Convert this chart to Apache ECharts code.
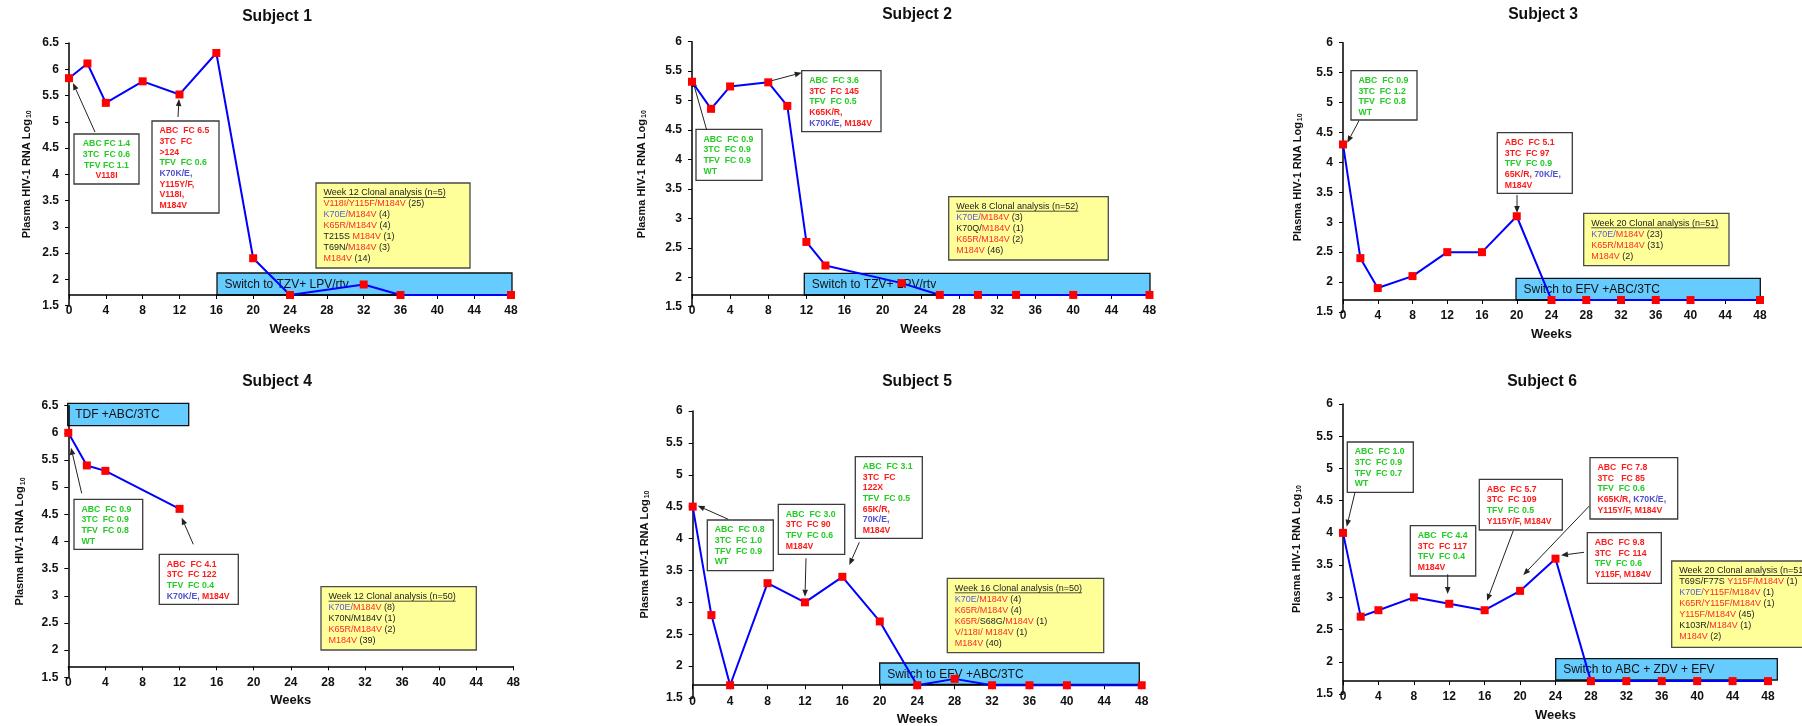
<!DOCTYPE html>
<html>
<head>
<meta charset="utf-8">
<title>Plasma HIV-1 RNA by subject</title>
<script src="https://cdn.jsdelivr.net/npm/echarts@6/dist/echarts.min.js"></script>
<style>
  html, body { margin: 0; padding: 0; background: #fff; }
  #chart { width: 1802px; height: 726px; }
</style>
</head>
<body>
<div id="chart"></div>
<script>
// weeks on study and plasma HIV-1 RNA (log10), one pair per subject
const weeks1 = [0, 2, 4, 8, 12, 16, 20, 24, 32, 36, 48]
const rna1 = [5.83, 6.11, 5.36, 5.77, 5.52, 6.31, 2.4, 1.7, 1.9, 1.7, 1.7]
const weeks2 = [0, 2, 4, 8, 10, 12, 14, 22, 26, 30, 34, 40, 48]
const rna2 = [5.32, 4.86, 5.24, 5.31, 4.91, 2.6, 2.2, 1.9, 1.7, 1.7, 1.7, 1.7, 1.7]
const weeks3 = [0, 2, 4, 8, 12, 16, 20, 24, 28, 32, 36, 40, 48]
const rna3 = [4.3, 2.4, 1.9, 2.1, 2.5, 2.5, 3.1, 1.7, 1.7, 1.7, 1.7, 1.7, 1.7]
const weeks4 = [0, 2, 4, 12]
const rna4 = [6.0, 5.4, 5.3, 4.6]
const weeks5 = [0, 2, 4, 8, 12, 16, 20, 24, 28, 32, 36, 40, 48]
const rna5 = [4.5, 2.8, 1.7, 3.3, 3.0, 3.4, 2.7, 1.7, 1.8, 1.7, 1.7, 1.7, 1.7]
const weeks6 = [0, 2, 4, 8, 12, 16, 20, 24, 28, 32, 36, 40, 44, 48]
const rna6 = [4.0, 2.7, 2.8, 3.0, 2.9, 2.8, 3.1, 3.6, 1.7, 1.7, 1.7, 1.7, 1.7, 1.7]

const subjects = ['Subject 1', 'Subject 2', 'Subject 3', 'Subject 4', 'Subject 5', 'Subject 6']
const yTop = [6.5, 6, 6, 6.5, 6, 6]
const yBottom = 1.5
const floorLine = 1.7   // the week axis is drawn at the assay limit
const weekTicks = 4

const FONT = '"Liberation Sans", Arial, sans-serif'

// plot boxes in px: left, top, width, height
const panels = [
  {grid: [69, 43, 442, 262.5], nameGap: 36, title: [277, 17]},
  {grid: [692, 41.7, 457.5, 265], nameGap: 44, title: [917, 15]},
  {grid: [1343, 42.7, 417, 269.3], nameGap: 39, title: [1543, 15]},
  {grid: [68.3, 405.7, 445, 271.5], nameGap: 42, title: [277, 382]},
  {grid: [692.7, 411, 449, 287], nameGap: 42, title: [917, 382]},
  {grid: [1343, 404, 425, 290], nameGap: 40, title: [1542, 382]}
]
const seriesData = [[weeks1, rna1], [weeks2, rna2], [weeks3, rna3], [weeks4, rna4], [weeks5, rna5], [weeks6, rna6]]

// annotation boxes (px)
const notes = [
  {x: 74, y: 134, w: 65, h: 50, align: 'center', lines: ['{g|ABC FC 1.4}', '{g|3TC  FC 0.6}', '{g|TFV FC 1.1}', '{r|V118I}']},
  {x: 152, y: 121, w: 67, h: 92, lines: ['{r|ABC  FC 6.5}', '{r|3TC  FC}', '{r|>124}', '{g|TFV  FC 0.6}', '{b|K70K/E,}', '{r|Y115Y/F,}', '{r|V118I,}', '{r|M184V}']},
  {x: 696, y: 129.3, w: 66, h: 51, lines: ['{g|ABC  FC 0.9}', '{g|3TC  FC 0.9}', '{g|TFV  FC 0.9}', '{g|WT}']},
  {x: 801.7, y: 70.7, w: 79.3, h: 61, lines: ['{g|ABC  FC 3.6}', '{r|3TC  FC 145}', '{g|TFV  FC 0.5}', '{r|K65K/R,}', '{b|K70K/E,}{r| M184V}']},
  {x: 1351, y: 70.7, w: 66, h: 49.3, lines: ['{g|ABC  FC 0.9}', '{g|3TC  FC 1.2}', '{g|TFV  FC 0.8}', '{g|WT}']},
  {x: 1497.3, y: 132.7, w: 75, h: 60.6, lines: ['{r|ABC  FC 5.1}', '{r|3TC  FC 97}', '{g|TFV  FC 0.9}', '{r|65K/R,}{b| 70K/E,}', '{r|M184V}']},
  {x: 74, y: 499.3, w: 68.7, h: 50, lines: ['{g|ABC  FC 0.9}', '{g|3TC  FC 0.9}', '{g|TFV  FC 0.8}', '{g|WT}']},
  {x: 159.3, y: 554.3, w: 79, h: 50, lines: ['{r|ABC  FC 4.1}', '{r|3TC  FC 122}', '{g|TFV  FC 0.4}', '{b|K70K/E,}{r| M184V}']},
  {x: 707.3, y: 520, w: 66, h: 50.7, lines: ['{g|ABC  FC 0.8}', '{g|3TC  FC 1.0}', '{g|TFV  FC 0.9}', '{g|WT}']},
  {x: 778.3, y: 504.3, w: 66.4, h: 50, lines: ['{g|ABC  FC 3.0}', '{r|3TC  FC 90}', '{g|TFV  FC 0.6}', '{r|M184V}']},
  {x: 855.3, y: 456.7, w: 67, h: 81.6, lines: ['{g|ABC  FC 3.1}', '{r|3TC  FC}', '{r|122X}', '{g|TFV  FC 0.5}', '{r|65K/R,}', '{b|70K/E,}', '{r|M184V}']},
  {x: 1347.3, y: 442, w: 66, h: 50.3, lines: ['{g|ABC  FC 1.0}', '{g|3TC  FC 0.9}', '{g|TFV  FC 0.7}', '{g|WT}']},
  {x: 1410.3, y: 525.7, w: 65.4, h: 50.3, lines: ['{g|ABC  FC 4.4}', '{r|3TC  FC 117}', '{g|TFV  FC 0.4}', '{r|M184V}']},
  {x: 1479.3, y: 479.3, w: 83, h: 50.7, lines: ['{r|ABC  FC 5.7}', '{r|3TC  FC 109}', '{g|TFV  FC 0.5}', '{r|Y115Y/F, M184V}']},
  {x: 1590, y: 457.7, w: 87.7, h: 61.3, lines: ['{r|ABC  FC 7.8}', '{r|3TC   FC 85}', '{g|TFV  FC 0.6}', '{r|K65K/R,}{b| K70K/E,}', '{r|Y115Y/F, M184V}']},
  {x: 1587.3, y: 532.7, w: 74, h: 50.6, lines: ['{r|ABC  FC 9.8}', '{r|3TC   FC 114}', '{g|TFV  FC 0.6}', '{r|Y115F, M184V}']}
]

const arrows = [
  [95, 132, 73, 83], [178, 117, 179, 99],
  [706.7, 130, 692.5, 80], [771.7, 80.7, 801.7, 72.7],
  [1359, 120.7, 1347.3, 142.7], [1517, 195, 1517, 213],
  [81.7, 493.3, 71, 447.7], [193.3, 544.3, 181.7, 517.7],
  [728.3, 519.3, 697.7, 505.7], [806, 558.3, 805, 596.7], [859.3, 542.3, 849.3, 565],
  [1355, 492.3, 1346.7, 526.7], [1447.7, 574.3, 1447.7, 594], [1513.3, 530.7, 1487, 600.7],
  [1589.3, 506, 1523.3, 575], [1584, 552.3, 1561, 555.3]
]

const clonals = [
  {x: 316, y: 183, w: 154, h: 85, title: 'Week 12 Clonal analysis (n=5)',
    lines: ['{r|V118I/Y115F/M184V}{k| (25)}', '{b|K70E/}{r|M184V}{k| (4)}', '{r|K65R/M184V}{k| (4)}', '{k|T215S }{r|M184V}{k| (1)}', '{k|T69N/}{r|M184V}{k| (3)}', '{r|M184V}{k| (14)}']},
  {x: 948.7, y: 196.7, w: 159.6, h: 63.3, title: 'Week 8 Clonal analysis (n=52)',
    lines: ['{b|K70E/}{r|M184V}{k| (3)}', '{k|K70Q/}{r|M184V}{k| (1)}', '{r|K65R/M184V}{k| (2)}', '{r|M184V}{k| (46)}']},
  {x: 1583.7, y: 213.3, w: 145.3, h: 52.4, title: 'Week 20 Clonal analysis (n=51)',
    lines: ['{b|K70E/}{r|M184V}{k| (23)}', '{r|K65R/M184V}{k| (31)}', '{r|M184V}{k| (2)}']},
  {x: 321, y: 586.7, w: 155.3, h: 63.3, title: 'Week 12 Clonal analysis (n=50)',
    lines: ['{b|K70E/}{r|M184V}{k| (8)}', '{k|K70N/M184V (1)}', '{r|K65R/M184V}{k| (2)}', '{r|M184V}{k| (39)}']},
  {x: 947.3, y: 578.3, w: 156.4, h: 74.4, title: 'Week 16 Clonal analysis (n=50)',
    lines: ['{b|K70E/}{r|M184V}{k| (4)}', '{r|K65R/M184V}{k| (4)}', '{r|K65R/}{k|S68G/}{r|M184V}{k| (1)}', '{r|V/118I/ M184V}{k| (1)}', '{r|M184V}{k| (40)}']},
  {x: 1671.7, y: 561, w: 160, h: 86.3, title: 'Week 20 Clonal analysis (n=51)',
    lines: ['{k|T69S/F77S }{r|Y115F/M184V}{k| (1)}', '{b|K70E/}{r|Y115F/M184V}{k| (1)}', '{r|K65R/Y115F/M184V}{k| (1)}', '{r|Y115F/M184V}{k| (45)}', '{k|K103R/}{r|M184V}{k| (1)}', '{r|M184V}{k| (2)}']}
]

const bands = [
  {x: 217, y: 273, w: 295, h: 22, text: 'Switch to TZV+ LPV/rtv'},
  {x: 804.3, y: 273.3, w: 345.7, h: 21.7, text: 'Switch to TZV+ LPV/rtv'},
  {x: 1516, y: 278.3, w: 244.3, h: 21.7, text: 'Switch to EFV +ABC/3TC'},
  {x: 67.7, y: 403.3, w: 121, h: 22.4, text: 'TDF +ABC/3TC'},
  {x: 879.7, y: 663, w: 259.6, h: 21.5, text: 'Switch to EFV +ABC/3TC'},
  {x: 1555.7, y: 658.7, w: 221.6, h: 21.3, text: 'Switch to ABC + ZDV + EFV'}
]

function richSet(weight, size, lh, cols) {
  let out = {}
  Object.keys(cols).forEach(k => {
    out[k] = {fill: cols[k], font: weight + ' ' + size + 'px ' + FONT, lineHeight: lh}
  })
  return out
}
const noteRich = richSet('bold', 8.7, 10.7, {g: '#22cc22', r: '#ff1a1a', b: '#5050d0', k: '#222'})
const clonalRich = richSet('normal', 9, 11, {g: '#22cc22', r: '#ff2a2a', b: '#5a5ad6', k: '#222'})

const measure = document.createElement('canvas').getContext('2d')
measure.font = '9px ' + FONT

let els = []

bands.forEach(b => {
  els.push({type: 'rect', shape: {x: b.x, y: b.y, width: b.w, height: b.h}, style: {fill: '#66ccff', stroke: '#111', lineWidth: 1.3}})
  els.push({type: 'text', x: b.x + 7.5, y: b.y + b.h / 2 + 0.5,
    style: {text: b.text, fill: '#111', font: '12px ' + FONT, align: 'left', verticalAlign: 'middle'}})
})

notes.forEach(n => {
  els.push({type: 'rect', shape: {x: n.x, y: n.y, width: n.w, height: n.h}, style: {fill: '#fff', stroke: '#3a3a3a', lineWidth: 1.3}})
  let center = n.align === 'center'
  els.push({type: 'text', x: center ? n.x + n.w / 2 : n.x + 7.5, y: n.y + 4.5,
    style: {text: n.lines.join('\n'), font: 'bold 8.7px ' + FONT, fill: '#222', lineHeight: 10.7,
      align: center ? 'center' : 'left', verticalAlign: 'top', rich: noteRich}})
})

clonals.forEach(c => {
  els.push({type: 'rect', shape: {x: c.x, y: c.y, width: c.w, height: c.h}, style: {fill: '#ffff99', stroke: '#4a4a4a', lineWidth: 1.3}})
  els.push({type: 'text', x: c.x + 7.5, y: c.y + 4.5,
    style: {text: ['{k|' + c.title + '}'].concat(c.lines).join('\n'), font: '9px ' + FONT, fill: '#222', lineHeight: 11,
      align: 'left', verticalAlign: 'top', rich: clonalRich}})
  let tw = measure.measureText(c.title).width
  els.push({type: 'line', shape: {x1: c.x + 7.5, y1: c.y + 14.5, x2: c.x + 7.5 + tw, y2: c.y + 14.5}, style: {stroke: '#222', lineWidth: 0.8}})
})

arrows.forEach(a => {
  let [x1, y1, x2, y2] = a
  let dx = x2 - x1, dy = y2 - y1, len = Math.hypot(dx, dy)
  let ux = dx / len, uy = dy / len
  let bx = x2 - ux * 7, by = y2 - uy * 7
  els.push({type: 'line', shape: {x1: x1, y1: y1, x2: bx, y2: by}, style: {stroke: '#222', lineWidth: 1}})
  els.push({type: 'polygon', shape: {points: [[x2, y2], [bx - uy * 2.8, by + ux * 2.8], [bx + uy * 2.8, by - ux * 2.8]]}, style: {fill: '#222'}})
})

panels.forEach((p, i) => {
  els.push({type: 'text', x: p.title[0], y: p.title[1],
    style: {text: subjects[i], fill: '#111', font: 'bold 15.7px ' + FONT, align: 'center', verticalAlign: 'middle'}})
})

let chart = echarts.init(document.getElementById('chart'))

chart.setOption({
  animation: false,
  textStyle: {fontFamily: FONT},
  grid: panels.map(p => ({
    left: p.grid[0], top: p.grid[1], width: p.grid[2], height: p.grid[3],
    containLabel: false, outerBoundsMode: 'none'
  })),
  xAxis: panels.map((p, i) => ({
    type: 'value', gridIndex: i, min: 0, max: 48, interval: weekTicks, position: 'bottom',
    offset: -(floorLine - yBottom) / (yTop[i] - yBottom) * p.grid[3],
    name: 'Weeks', nameLocation: 'middle', nameGap: 28, nameMoveOverlap: false,
    nameTextStyle: {fontSize: 13, fontWeight: 'bold', color: '#111', fontFamily: FONT},
    axisLine: {show: true, onZero: false, lineStyle: {color: '#000', width: 1.5}},
    axisTick: {show: true, length: 4, lineStyle: {color: '#000', width: 1}},
    axisLabel: {fontSize: 12, fontWeight: 'bold', color: '#111', margin: 10, showMinLabel: true, showMaxLabel: true, fontFamily: FONT},
    splitLine: {show: false}
  })),
  yAxis: panels.map((p, i) => ({
    type: 'value', gridIndex: i, min: yBottom, max: yTop[i], interval: 0.5, position: 'left',
    name: 'Plasma HIV-1 RNA Log{sub|10}', nameLocation: 'middle', nameRotate: 90, nameGap: p.nameGap, nameMoveOverlap: false,
    nameTextStyle: {fontSize: 11, fontWeight: 'bold', color: '#111', fontFamily: FONT,
      rich: {sub: {fontSize: 7, fontWeight: 'bold', color: '#111', fontFamily: FONT, verticalAlign: 'bottom', padding: [5, 0, 0, 1]}}},
    axisLine: {show: true, onZero: false, lineStyle: {color: '#000', width: 1.5}},
    axisTick: {show: true, length: 4, lineStyle: {color: '#000', width: 1}},
    axisLabel: {fontSize: 12, fontWeight: 'bold', color: '#111', margin: 10, showMinLabel: true, showMaxLabel: true, fontFamily: FONT},
    splitLine: {show: false}
  })),
  series: seriesData.map((d, i) => ({
    name: subjects[i],
    type: 'line',
    xAxisIndex: i,
    yAxisIndex: i,
    symbol: 'rect',
    symbolSize: 8,
    itemStyle: {color: '#ff0000'},
    lineStyle: {color: '#0000ff', width: 2},
    emphasis: {disabled: true},
    data: d[0].map((w, k) => [w, d[1][k]])
  })),
  graphic: {elements: els}
})
</script>
</body>
</html>
